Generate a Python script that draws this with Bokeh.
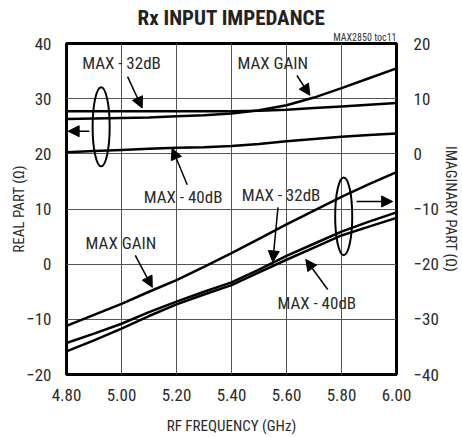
from bokeh.plotting import figure
from bokeh.models import Range1d, LinearAxis, Label, Arrow, NormalHead, FixedTicker, Title
from bokeh.embed import file_html
from bokeh.resources import INLINE

# ---------------- data ----------------
freq = [4.8, 4.9, 5.0, 5.1, 5.2, 5.3, 5.4, 5.5, 5.6, 5.7, 5.8, 5.9, 6.0]

real_max_gain = [26.3, 26.4, 26.5, 26.6, 26.8, 27.0, 27.3, 27.9, 28.8, 30.2, 31.9, 33.7, 35.5]
real_max_32 = [27.7, 27.7, 27.7, 27.7, 27.7, 27.7, 27.7, 27.8, 28.0, 28.3, 28.6, 28.9, 29.2]
real_max_40 = [20.3, 20.5, 20.7, 20.9, 21.1, 21.2, 21.4, 21.8, 22.3, 22.7, 23.1, 23.4, 23.7]

imag_max_gain = [-31.2, -29.2, -27.2, -25.0, -22.9, -20.5, -18.0, -15.4, -12.8, -10.3, -7.8, -5.5, -3.3]
imag_max_32 = [-34.3, -32.6, -30.8, -28.7, -26.8, -25.0, -23.3, -21.0, -18.5, -16.3, -14.1, -12.3, -10.6]
imag_max_40 = [-35.8, -33.8, -31.7, -29.4, -27.3, -25.5, -23.8, -21.5, -19.2, -17.0, -14.8, -13.2, -11.6]

x_ticks = [4.8, 5.0, 5.2, 5.4, 5.6, 5.8, 6.0]
x_tick_labels = ["4.80", "5.00", "5.20", "5.40", "5.60", "5.80", "6.00"]
left_ticks = [-20, -10, 0, 10, 20, 30, 40]
right_ticks = [-40, -30, -20, -10, 0, 10, 20]

FONT = "Roboto Condensed"
TXT = "#2a2a2a"

p = figure(width=462, height=437, output_backend="svg", toolbar_location=None, title=None,
           x_range=Range1d(4.8, 6.0), y_range=Range1d(-20, 40),
           min_border_left=66, min_border_right=65, min_border_top=43, min_border_bottom=63)
p.extra_y_ranges = {"imag": Range1d(-40, 20)}
p.background_fill_color = "white"
p.border_fill_color = "white"
p.outline_line_color = "black"
p.outline_line_width = 3

# grid
p.xgrid.ticker = FixedTicker(ticks=x_ticks)
p.ygrid.ticker = FixedTicker(ticks=left_ticks)
p.xgrid.grid_line_color = "#555555"
p.ygrid.grid_line_color = "#555555"

# x axis
xa = p.xaxis[0]
xa.ticker = FixedTicker(ticks=x_ticks)
xa.major_label_overrides = {t: l for t, l in zip(x_ticks, x_tick_labels)}
xa.axis_label = "RF FREQUENCY (GHz)"

# left axis
ya = p.yaxis[0]
ya.ticker = FixedTicker(ticks=left_ticks)
ya.axis_label = "REAL PART (Ω)"

# right axis
ra = LinearAxis(y_range_name="imag", ticker=FixedTicker(ticks=right_ticks),
                axis_label="IMAGINARY PART (Ω)")
p.add_layout(ra, "right")

for ax in (xa, ya, ra):
    ax.axis_line_color = None
    ax.major_tick_line_color = None
    ax.minor_tick_line_color = None
    ax.major_tick_out = 0
    ax.major_tick_in = 0
    ax.major_label_text_font = FONT
    ax.major_label_text_font_size = "17px"
    ax.major_label_text_color = TXT
    ax.axis_label_text_font = FONT
    ax.axis_label_text_font_size = "15px"
    ax.axis_label_text_font_style = "normal"
    ax.axis_label_text_color = TXT

xa.major_label_standoff = 14
xa.axis_label_standoff = 13
ya.major_label_standoff = 15
ya.axis_label_standoff = -5
ra.major_label_standoff = 17
ra.axis_label_standoff = 0

# curves
LW = 2.5
p.line(freq, real_max_gain, line_color="black", line_width=LW)
p.line(freq, real_max_32, line_color="black", line_width=LW)
p.line(freq, real_max_40, line_color="black", line_width=LW)
p.line(freq, imag_max_gain, line_color="black", line_width=LW, y_range_name="imag")
p.line(freq, imag_max_32, line_color="black", line_width=LW, y_range_name="imag")
p.line(freq, imag_max_40, line_color="black", line_width=LW, y_range_name="imag")

# ellipses (grouping marks)
p.ellipse(x=[4.926, 5.808], y=[24.9, 8.68], width=[0.062, 0.062], height=[14.3, 14.1],
          fill_alpha=0, line_color="black", line_width=2)

# annotations
def lab(x, y, t):
    p.add_layout(Label(x=x, y=y, text=t, text_font=FONT, text_font_size="17px",
                       text_align="center", text_baseline="middle", text_color=TXT))

def arr(x0, y0, x1, y1):
    p.add_layout(Arrow(end=NormalHead(size=11, fill_color="black", line_color="black"),
                       x_start=x0, y_start=y0, x_end=x1, y_end=y1,
                       line_color="black", line_width=1.5))

lab(5.00, 36.4, "MAX - 32dB")
arr(5.022, 34.0, 5.075, 28.3)
lab(5.55, 36.4, "MAX GAIN")
arr(5.638, 34.2, 5.685, 30.6)
lab(5.224, 12.1, "MAX - 40dB")
arr(5.239, 14.4, 5.184, 21.0)
lab(5.58, 12.45, "MAX - 32dB")
arr(5.569, 10.3, 5.55, 0.4)
lab(4.998, 3.8, "MAX GAIN")
arr(5.05, 1.6, 5.112, -4.2)
lab(5.71, -7.07, "MAX - 40dB")
arr(5.75, -4.6, 5.67, 0.85)
arr(4.883, 24.1, 4.806, 24.1)
arr(5.855, 11.36, 5.986, 11.36)

# title and note (note nearest the frame)
note = Title(text="MAX2850 toc11", align="right", text_font=FONT, text_font_size="10px",
             text_font_style="normal", text_color="#333333", standoff=1)
main = Title(text="Rx INPUT IMPEDANCE", align="center", text_font=FONT,
             text_font_size="21px", text_font_style="bold", text_color="#222222", standoff=0)
p.add_layout(note, "above")
p.add_layout(main, "above")

open("out.html", "w").write(file_html(p, INLINE))
